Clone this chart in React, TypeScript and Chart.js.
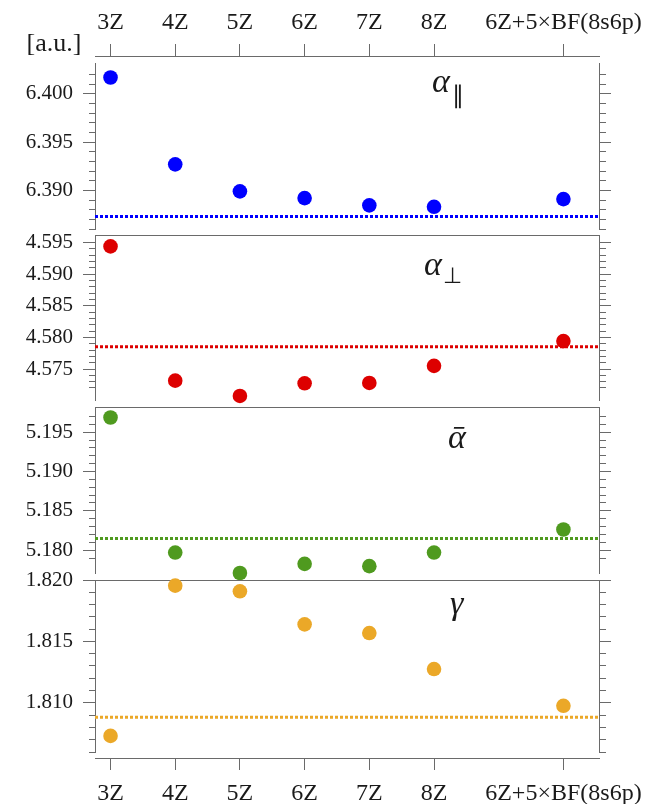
import React, { useEffect, useRef } from 'react';
import { Chart, registerables } from 'chart.js';

Chart.register(...registerables);

// ---------------- data ----------------
const CATEGORIES = ['3Z', '4Z', '5Z', '6Z', '7Z', '8Z', '6Z+5×BF(8s6p)'];
const X_POSITIONS = [0, 1, 2, 3, 4, 5, 7];
const X_MIN = -0.24;
const X_MAX = 7.55;

const ALPHA_PARALLEL = [6.4017, 6.3927, 6.3899, 6.3892, 6.38845, 6.3883, 6.3891];
const ALPHA_PERP = [4.5944, 4.57316, 4.57074, 4.57274, 4.5728, 4.5755, 4.57942];
const ALPHA_BAR = [5.19687, 5.1797, 5.1771, 5.17826, 5.17797, 5.1797, 5.18263];
const GAMMA = [1.80731, 1.81954, 1.81908, 1.81639, 1.81568, 1.81275, 1.80976];

const REF_ALPHA_PARALLEL = 6.3873;
const REF_ALPHA_PERP = 4.57852;
const REF_ALPHA_BAR = 5.18149;
const REF_GAMMA = 1.80883;

const RANGE_ALPHA_PARALLEL = [6.386, 6.4032];
const RANGE_ALPHA_PERP = [4.5701, 4.5962];
const RANGE_ALPHA_BAR = [5.1771, 5.1982];
const RANGE_GAMMA = [1.806, 1.82];

const MAJOR_STEP = 0.005;
const MINOR_STEP = 0.001;

// ---------------- style ----------------
const FONT = '"Liberation Serif", "Times New Roman", serif';
const AXIS_COLOR = '#6a6a6a';
const TEXT_COLOR = '#1a1a1a';
const CANVAS_W = 649;

type PanelSpec = {
  key: string;
  values: number[];
  refValue: number;
  range: number[];
  color: string;
  top: number;
  height: number;
  padTop: number;
  padBottom: number;
  topAxis: 'labels' | 'border';
  bottomAxis: 'labels' | 'none';
  main: string;
  sub?: string;
  labelX: number;
  labelY: number;
  subDx?: number;
  subDy?: number;
  subSize?: number;
  unitText?: boolean;
};

const PANELS: PanelSpec[] = [
  {
    key: 'par', values: ALPHA_PARALLEL, refValue: REF_ALPHA_PARALLEL, range: RANGE_ALPHA_PARALLEL,
    color: '#0000ff', top: 0, height: 240, padTop: 0, padBottom: 11, topAxis: 'labels', bottomAxis: 'none',
    main: 'α', sub: '∥', labelX: 432, labelY: 92, subDx: 2, subDy: 11, subSize: 24, unitText: true,
  },
  {
    key: 'perp', values: ALPHA_PERP, refValue: REF_ALPHA_PERP, range: RANGE_ALPHA_PERP,
    color: '#dd0000', top: 215, height: 205, padTop: 20, padBottom: 20, topAxis: 'border', bottomAxis: 'none',
    main: 'α', sub: '⊥', labelX: 424, labelY: 60, subDx: 1, subDy: 8, subSize: 22,
  },
  {
    key: 'bar', values: ALPHA_BAR, refValue: REF_ALPHA_BAR, range: RANGE_ALPHA_BAR,
    color: '#4f9a1f', top: 387, height: 206, padTop: 20, padBottom: 20, topAxis: 'border', bottomAxis: 'none',
    main: 'ᾱ', labelX: 448, labelY: 61,
  },
  {
    key: 'gamma', values: GAMMA, refValue: REF_GAMMA, range: RANGE_GAMMA,
    color: '#eba828', top: 560, height: 244, padTop: 20, padBottom: 0, topAxis: 'border', bottomAxis: 'labels',
    main: 'γ', labelX: 450, labelY: 54,
  },
];

function isMultiple(v: number, step: number) {
  const r = v / step;
  return Math.abs(r - Math.round(r)) < 1e-6;
}

function xLabel(value: number) {
  const i = X_POSITIONS.indexOf(value);
  return i >= 0 ? CATEGORIES[i] : '';
}

function zeroPad(s: any) {
  s.paddingLeft = 0;
  s.paddingRight = 0;
  s.paddingTop = 0;
  s.paddingBottom = 0;
}

function labeledXAxis(position: 'top' | 'bottom', boxHeight: number, pad: number) {
  return {
    type: 'linear',
    position,
    min: X_MIN,
    max: X_MAX,
    weight: 2,
    afterBuildTicks: (s: any) => {
      s.ticks = X_POSITIONS.map((v) => ({ value: v }));
    },
    afterFit: (s: any) => {
      s.height = boxHeight;
      zeroPad(s);
    },
    grid: { display: true, drawOnChartArea: false, drawTicks: true, tickLength: 12, color: AXIS_COLOR, lineWidth: 1 },
    border: { display: true, color: AXIS_COLOR, width: 1 },
    ticks: {
      autoSkip: false,
      maxRotation: 0,
      minRotation: 0,
      padding: pad,
      color: TEXT_COLOR,
      font: { family: FONT, size: 24 },
      callback: (v: any) => xLabel(Number(v)),
    },
  };
}

function spacerAxis(position: 'top' | 'bottom', h: number) {
  return {
    type: 'linear',
    position,
    min: 0,
    max: 1,
    weight: 0,
    display: true,
    grid: { display: false, drawTicks: false },
    border: { display: false },
    ticks: { display: false },
    afterFit: (s: any) => {
      s.height = h;
      zeroPad(s);
    },
  };
}

function yAxis(side: 'left' | 'right', range: number[]) {
  const left = side === 'left';
  return {
    type: 'linear',
    position: side,
    min: range[0],
    max: range[1],
    weight: 1,
    afterFit: (s: any) => {
      s.width = left ? 95 : 12;
      zeroPad(s);
    },
    grid: {
      display: true,
      drawOnChartArea: false,
      drawTicks: true,
      tickLength: 12,
      color: AXIS_COLOR,
      lineWidth: 1,
      tickColor: (c: any) =>
        c.tick && isMultiple(c.tick.value, MINOR_STEP) ? AXIS_COLOR : 'rgba(0,0,0,0)',
      tickBorderDash: (c: any) => {
        if (!c.tick || isMultiple(c.tick.value, MAJOR_STEP)) return [];
        return left ? [0, 6, 6, 100] : [6, 100];
      },
    },
    border: { display: true, color: AXIS_COLOR, width: 1 },
    ticks: {
      display: left,
      stepSize: MINOR_STEP,
      autoSkip: false,
      maxTicksLimit: 1000,
      padding: 10,
      color: TEXT_COLOR,
      font: { family: FONT, size: 21 },
      callback: (v: any) => (isMultiple(Number(v), MAJOR_STEP) ? Number(v).toFixed(3) : ''),
    },
  };
}

function labelPlugin(spec: PanelSpec) {
  return {
    id: 'panelLabel_' + spec.key,
    afterDraw(chart: any) {
      const ctx = chart.ctx;
      ctx.save();
      ctx.fillStyle = TEXT_COLOR;
      ctx.textBaseline = 'alphabetic';
      ctx.textAlign = 'left';
      ctx.font = `italic 34px ${FONT}`;
      ctx.fillText(spec.main, spec.labelX, spec.labelY);
      const w = ctx.measureText(spec.main).width;
      if (spec.sub) {
        ctx.font = `${spec.subSize || 24}px ${FONT}`;
        ctx.fillText(spec.sub, spec.labelX + w + (spec.subDx || 0), spec.labelY + (spec.subDy || 0));
      }
      if (spec.unitText) {
        ctx.font = `26px ${FONT}`;
        ctx.textAlign = 'center';
        ctx.fillText('[a.u.]', 54, 51);
      }
      ctx.restore();
    },
  };
}

function buildConfig(spec: PanelSpec): any {
  const scales: any = {};
  if (spec.topAxis === 'labels') {
    scales.x = labeledXAxis('top', 56, 7);
    scales.xs = spacerAxis('top', 7);
  } else {
    scales.x = {
      type: 'linear',
      position: 'top',
      min: X_MIN,
      max: X_MAX,
      weight: 2,
      grid: { display: false, drawTicks: false },
      border: { display: true, color: AXIS_COLOR, width: 1 },
      ticks: { display: false },
      afterFit: (s: any) => {
        s.height = 0;
        zeroPad(s);
      },
    };
  }
  if (spec.bottomAxis === 'labels') {
    scales.xb = labeledXAxis('bottom', 46, 9);
    scales.xbs = spacerAxis('bottom', 6);
  }
  scales.y = yAxis('left', spec.range);
  scales.yr = yAxis('right', spec.range);

  return {
    type: 'line',
    data: {
      datasets: [
        {
          label: 'points',
          data: X_POSITIONS.map((x, i) => ({ x, y: spec.values[i] })),
          showLine: false,
          pointRadius: 7.3,
          pointHoverRadius: 7.3,
          pointBackgroundColor: spec.color,
          pointBorderWidth: 0,
          borderColor: spec.color,
          backgroundColor: spec.color,
          clip: false,
          order: 0,
          xAxisID: 'x',
          yAxisID: 'y',
        },
        {
          label: 'reference',
          data: [
            { x: X_MIN, y: spec.refValue },
            { x: X_MAX, y: spec.refValue },
          ],
          showLine: true,
          pointRadius: 0,
          borderColor: spec.color,
          borderWidth: 3,
          borderDash: [3, 2],
          fill: false,
          order: 1,
          xAxisID: 'x',
          yAxisID: 'y',
        },
      ],
    },
    options: {
      responsive: false,
      animation: false,
      events: [],
      layout: { padding: { left: 0, right: 38, top: spec.padTop, bottom: spec.padBottom } },
      plugins: { legend: { display: false }, tooltip: { enabled: false }, title: { display: false } },
      scales,
    },
    plugins: [labelPlugin(spec)],
  };
}

function Panel({ spec }: { spec: PanelSpec }) {
  const ref = useRef<HTMLCanvasElement>(null);
  useEffect(() => {
    const chart = new Chart(ref.current as HTMLCanvasElement, buildConfig(spec));
    return () => chart.destroy();
  }, [spec]);
  return (
    <canvas
      ref={ref}
      width={CANVAS_W}
      height={spec.height}
      style={{ position: 'absolute', left: 0, top: spec.top, display: 'block' }}
    />
  );
}

export default function App() {
  return (
    <div style={{ position: 'absolute', left: 0, top: 0, width: CANVAS_W, height: 804, background: '#ffffff' }}>
      {PANELS.map((p) => (
        <Panel key={p.key} spec={p} />
      ))}
    </div>
  );
}
